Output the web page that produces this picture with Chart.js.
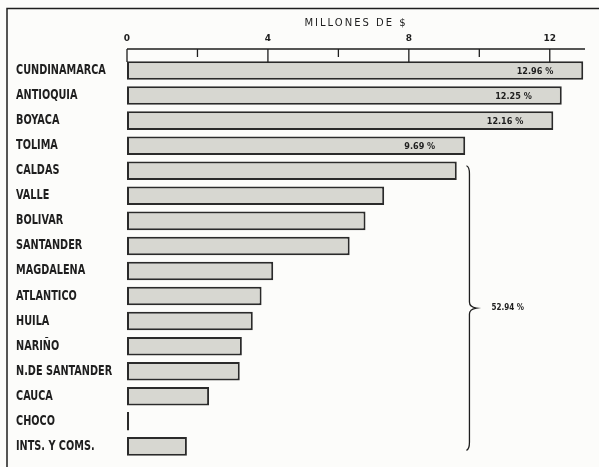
<!DOCTYPE html>
<html>
<head>
<meta charset="utf-8">
<script src="https://cdn.jsdelivr.net/npm/chart.js@4/dist/chart.umd.min.js"></script>
<style>
  html, body { margin: 0; padding: 0; background: #fcfcfa; }
  #wrap { width: 599px; height: 467px; }
</style>
</head>
<body>
<div id="wrap"><canvas id="chart" width="599" height="467"></canvas></div>
<script>
// Departamentos y valores (millones de $)
const departamentos = ['CUNDINAMARCA', 'ANTIOQUIA', 'BOYACA', 'TOLIMA', 'CALDAS', 'VALLE', 'BOLIVAR',
  'SANTANDER', 'MAGDALENA', 'ATLANTICO', 'HUILA', 'NARIÑO', 'N.DE SANTANDER', 'CAUCA', 'CHOCO', 'INTS. Y COMS.'];
const valores = [12.95, 12.34, 12.1, 9.6, 9.36, 7.3, 6.77, 6.32, 4.15, 3.82, 3.57, 3.26, 3.2, 2.33, 0.06, 1.7];
const porcentajes = ['12.96 %', '12.25 %', '12.16 %', '9.69 %'];
const grupoInicio = 4;            // desde CALDAS
const grupoFin = 15;              // hasta INTS. Y COMS.
const grupoTexto = '52.94 %';
const ejeMax = 13;
const tituloEje = 'MILLONES DE $';

const tinta = '#1e1e1e';

// --- Marco, eje superior, porcentajes y llave ---
const decor = {
  id: 'decor',
  afterDraw(chart) {
    const { ctx, chartArea, scales } = chart;
    const x = scales.x, y = scales.y;
    ctx.save();
    ctx.strokeStyle = tinta;

    // marco
    ctx.lineWidth = 1.5;
    ctx.beginPath();
    ctx.moveTo(7, 467); ctx.lineTo(7, 8.5); ctx.lineTo(599, 8.5);
    ctx.stroke();

    // linea del eje y marcas
    const ejeY = chartArea.top - 9;
    ctx.lineWidth = 1.3;
    ctx.beginPath();
    ctx.moveTo(x.getPixelForValue(0), ejeY);
    ctx.lineTo(x.getPixelForValue(ejeMax), ejeY);
    x.ticks.forEach(t => {
      if (t.value % 2 !== 0 || t.value > 12) return;
      const px = x.getPixelForValue(t.value);
      ctx.moveTo(px, ejeY);
      ctx.lineTo(px, ejeY + (t.value % 4 === 0 ? 13 : 8));
    });
    ctx.stroke();

    // porcentajes dentro de las barras
    ctx.fillStyle = tinta;
    ctx.font = 'bold 9px "DejaVu Sans Condensed"';
    ctx.textAlign = 'right';
    ctx.textBaseline = 'middle';
    porcentajes.forEach((p, i) => {
      ctx.fillText(p, x.getPixelForValue(valores[i]) - 30, y.getPixelForValue(i) + 1);
    });

    // llave
    const bx = x.getPixelForValue(9.72);
    const top = y.getPixelForValue(grupoInicio) - 3;
    const bot = y.getPixelForValue(grupoFin) + 2;
    const mid = (top + bot) / 2;
    ctx.lineWidth = 1.3;
    ctx.beginPath();
    ctx.moveTo(bx - 3, top - 2);
    ctx.quadraticCurveTo(bx, top - 1, bx, top + 6);
    ctx.lineTo(bx, mid - 6);
    ctx.quadraticCurveTo(bx, mid - 1, bx + 7, mid);
    ctx.quadraticCurveTo(bx, mid + 1, bx, mid + 6);
    ctx.lineTo(bx, bot - 6);
    ctx.quadraticCurveTo(bx, bot + 1, bx - 3, bot + 2);
    ctx.stroke();

    ctx.textAlign = 'left';
    ctx.font = 'bold 8px "DejaVu Sans Condensed"';
    ctx.fillText(grupoTexto, bx + 22, mid);
    ctx.restore();
  }
};

// etiquetas del eje y más estrechas (letra condensada como el original)
const ESTRECHO = 0.8;
function estrecharEtiquetas(s) {
  if (s._estrecha) return;
  s._estrecha = true;
  const orig = s.drawLabels;
  s.drawLabels = function (area) {
    const ctx = this.ctx;
    const r = this.right, w = this.width;
    this.right = this.left + w / ESTRECHO;
    this.width = w / ESTRECHO;
    ctx.save();
    ctx.translate(this.left, 0);
    ctx.scale(ESTRECHO, 1);
    ctx.translate(-this.left, 0);
    orig.call(this, area);
    ctx.restore();
    this.right = r;
    this.width = w;
  };
}

// titulo del eje con letras espaciadas
function espaciarTitulo(s) {
  if (s._espaciado) return;
  s._espaciado = true;
  const orig = s.drawTitle;
  s.drawTitle = function () {
    const ctx = this.ctx;
    ctx.save();
    ctx.letterSpacing = '2px';
    orig.apply(this, arguments);
    ctx.restore();
  };
}

new Chart(document.getElementById('chart'), {
  type: 'bar',
  data: {
    labels: departamentos,
    datasets: [{
      data: valores,
      backgroundColor: '#d7d7d1',
      borderColor: '#2a2a2a',
      borderWidth: 2,
      borderSkipped: false,
      categoryPercentage: 1,
      barPercentage: 0.74
    }]
  },
  options: {
    indexAxis: 'y',
    responsive: false,
    animation: false,
    layout: { padding: { left: 16, top: 8, right: 9, bottom: 4 } },
    plugins: { legend: { display: false }, tooltip: { enabled: false } },
    scales: {
      x: {
        position: 'top',
        min: 0,
        max: ejeMax,
        grid: { display: false, drawTicks: false },
        border: { display: false },
        ticks: {
          stepSize: 2,
          autoSkip: false,
          padding: 14,
          color: tinta,
          font: { family: 'DejaVu Sans', size: 9, weight: 'bold' },
          callback: v => (v % 4 === 0 ? v : '')
        },
        title: {
          display: true,
          text: tituloEje,
          color: tinta,
          padding: { top: 9, bottom: 0 },
          font: { family: 'DejaVu Sans', size: 10 }
        },
        afterFit: s => { s.height = 50; espaciarTitulo(s); }
      },
      y: {
        grid: { display: false },
        border: { display: false },
        ticks: {
          crossAlign: 'far',
          padding: 0,
          color: tinta,
          font: { family: 'DejaVu Sans Condensed', size: 13.5, weight: 'bold' }
        },
        afterFit: s => { s.width = 111; estrecharEtiquetas(s); }
      }
    }
  },
  plugins: [decor]
});
</script>
</body>
</html>
